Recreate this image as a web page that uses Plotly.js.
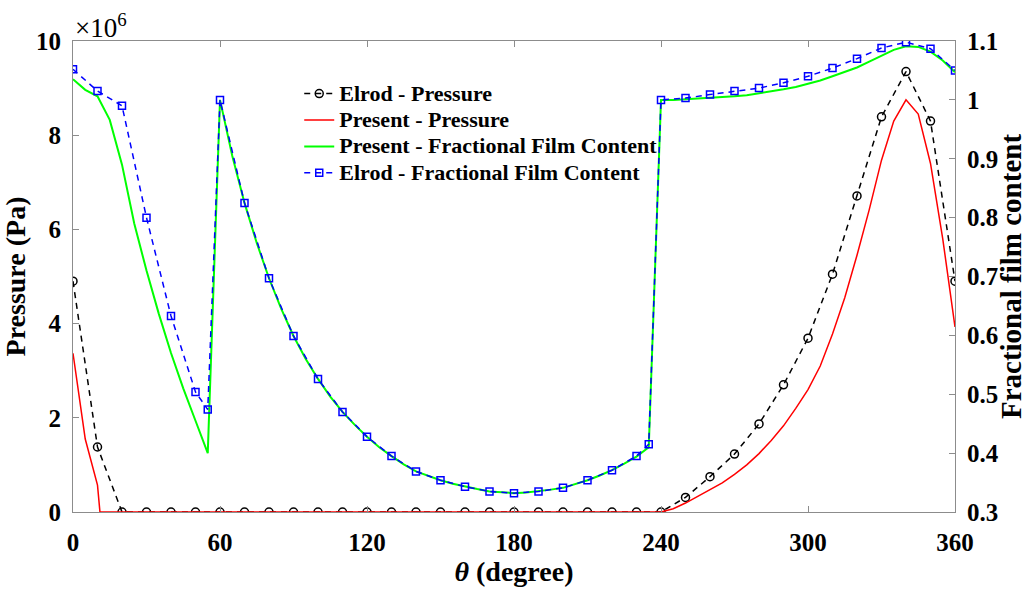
<!DOCTYPE html>
<html>
<head>
<meta charset="utf-8">
<script src="https://cdn.plot.ly/plotly-3.0.1.min.js"></script>
<style>html,body{margin:0;padding:0;background:#fff}#chart{width:1027px;height:589px}</style>
</head>
<body>
<div id="chart"></div>
<script>
// Pressure values in units of 10^6 Pa
const elrodP_theta = [0,10,20,30,40,50,60,70,80,90,100,110,120,130,140,150,160,170,180,190,200,210,220,230,240,250,260,270,280,290,300,310,320,330,340,350,360];
const elrodP_val   = [4.90,1.38,0,0,0,0,0,0,0,0,0,0,0,0,0,0,0,0,0,0,0,0,0,0,0,0.31,0.75,1.23,1.87,2.70,3.69,5.05,6.71,8.39,9.35,8.30,4.90];

const presentP_theta = [0,5,10,11,60,120,180,240,245,250,255,260,265,270,275,280,285,290,295,300,305,310,315,320,325,330,335,340,345,350,355,360];
const presentP_val   = [3.37,1.55,0.57,0,0,0,0,0,0.07,0.19,0.33,0.47,0.62,0.80,1.00,1.24,1.52,1.83,2.20,2.60,3.10,3.78,4.55,5.45,6.42,7.47,8.30,8.75,8.45,7.40,5.80,3.93];

const presentF_theta = [0,5,10,15,20,25,30,35,40,45,50,55,60,65,70,75,80,85,90,95,100,105,110,115,120,125,130,135,140,145,150,155,160,165,170,175,180,185,190,195,200,205,210,215,220,225,230,235,240,245,250,255,260,265,270,275,280,285,290,295,300,305,310,315,320,325,330,335,340,345,350,355,360];
const presentF_val   = [1.035,1.017,1.006,0.966,0.89,0.79,0.71,0.637,0.57,0.51,0.455,0.40,1.0,0.905,0.825,0.757,0.697,0.645,0.599,0.560,0.526,0.496,0.470,0.448,0.428,0.410,0.395,0.381,0.369,0.361,0.354,0.348,0.343,0.339,0.335,0.333,0.332,0.333,0.335,0.338,0.341,0.347,0.354,0.362,0.371,0.382,0.394,0.41,1.0,1.0,1.001,1.002,1.003,1.004,1.006,1.008,1.011,1.014,1.018,1.022,1.027,1.033,1.040,1.047,1.055,1.065,1.075,1.085,1.091,1.090,1.082,1.067,1.047];

const elrodF_theta = [0,10,20,30,40,50,55,60,70,80,90,100,110,120,130,140,150,160,170,180,190,200,210,220,230,235,240,250,260,270,280,290,300,310,320,330,340,350,360];
const elrodF_val   = [1.052,1.015,0.99,0.80,0.633,0.504,0.474,1.0,0.825,0.697,0.599,0.526,0.470,0.428,0.395,0.369,0.354,0.343,0.335,0.332,0.335,0.341,0.354,0.371,0.395,0.415,1.0,1.003,1.009,1.015,1.020,1.029,1.040,1.054,1.070,1.088,1.098,1.087,1.050];

const seriesNames = ['Elrod - Pressure','Present - Pressure','Present - Fractional Film Content','Elrod - Fractional Film Content'];

const xTicks = [0,60,120,180,240,300,360];
const xTickText = ['0','60','120','180','240','300','360'];
const yTicks = [0,2,4,6,8,10];
const yTickText = ['0','2','4','6','8','10'];
const y2Ticks = [0.3,0.4,0.5,0.6,0.7,0.8,0.9,1.0,1.1];
const y2TickText = ['0.3','0.4','0.5','0.6','0.7','0.8','0.9','1','1.1'];

const serif = 'Liberation Serif, Times New Roman, serif';
const axisGray = '#8c8c8c';
const legName = s => '<span style="font-size:22px">' + s + '</span>';

const traces = [
  {x: elrodP_theta, y: elrodP_val, name: legName(seriesNames[0]), type: 'scatter', mode: 'lines+markers',
   line: {color: '#000000', width: 1.5, dash: '6px,5px'},
   marker: {symbol: 'circle-open', size: 8, color: '#000000', line: {width: 1.5}}, yaxis: 'y'},
  {x: presentP_theta, y: presentP_val, name: legName(seriesNames[1]), type: 'scatter', mode: 'lines',
   line: {color: '#ff0000', width: 1.5}, yaxis: 'y'},
  {x: presentF_theta, y: presentF_val, name: legName(seriesNames[2]), type: 'scatter', mode: 'lines',
   line: {color: '#00ff00', width: 2}, yaxis: 'y2'},
  {x: elrodF_theta, y: elrodF_val, name: legName(seriesNames[3]), type: 'scatter', mode: 'lines+markers',
   line: {color: '#0000ff', width: 1.5, dash: '6px,5px'},
   marker: {symbol: 'square-open', size: 7, color: '#0000ff', line: {width: 1.5}}, yaxis: 'y2'}
];

const layout = {
  width: 1027, height: 589,
  margin: {l: 73, r: 72, t: 41, b: 77},
  paper_bgcolor: '#ffffff', plot_bgcolor: '#ffffff',
  font: {family: serif, color: '#000000'},
  showlegend: true,
  legend: {x: 0.2565, y: 0.927, xanchor: 'left', yanchor: 'top', bgcolor: 'rgba(0,0,0,0)', borderwidth: 0,
           font: {family: serif, size: 18, color: '#000000', weight: 'bold'}, tracegroupgap: 0},
  xaxis: {range: [0, 360], tickvals: xTicks, ticktext: xTickText, ticks: 'inside', ticklen: 6, tickcolor: axisGray,
          showline: true, linecolor: axisGray, linewidth: 1, mirror: 'ticks', showgrid: false, zeroline: false,
          tickfont: {family: serif, size: 25, weight: 'bold'}, ticklabelstandoff: 8,
          title: {text: '<i>θ</i> (degree)', font: {family: serif, size: 28, weight: 'bold'}, standoff: 6}},
  yaxis: {range: [0, 10], tickvals: yTicks, ticktext: yTickText, ticks: 'inside', ticklen: 6, tickcolor: axisGray,
          showline: true, linecolor: axisGray, linewidth: 1, mirror: false, showgrid: false, zeroline: false,
          tickfont: {family: serif, size: 25, weight: 'bold'}, ticklabelstandoff: 6,
          title: {text: 'Pressure (Pa)', font: {family: serif, size: 28, weight: 'bold'}, standoff: 2}},
  yaxis2: {range: [0.3, 1.1], tickvals: y2Ticks, ticktext: y2TickText, overlaying: 'y', side: 'right',
           ticks: 'inside', ticklen: 6, tickcolor: axisGray, showline: true, linecolor: axisGray, linewidth: 1,
           showgrid: false, zeroline: false,
           tickfont: {family: serif, size: 25, weight: 'bold'}, ticklabelstandoff: 6,
           title: {text: 'Fractional film content', font: {family: serif, size: 29, weight: 'bold'}, standoff: 10}},
  annotations: [
    {xref: 'paper', yref: 'paper', x: 0, y: 1, xanchor: 'left', yanchor: 'bottom', showarrow: false,
     text: '×10<sup>6</sup>', font: {family: serif, size: 27, color: '#000000'}, yshift: -4}
  ]
};

Plotly.newPlot('chart', traces, layout, {displayModeBar: false, staticPlot: true});
</script>
</body>
</html>
